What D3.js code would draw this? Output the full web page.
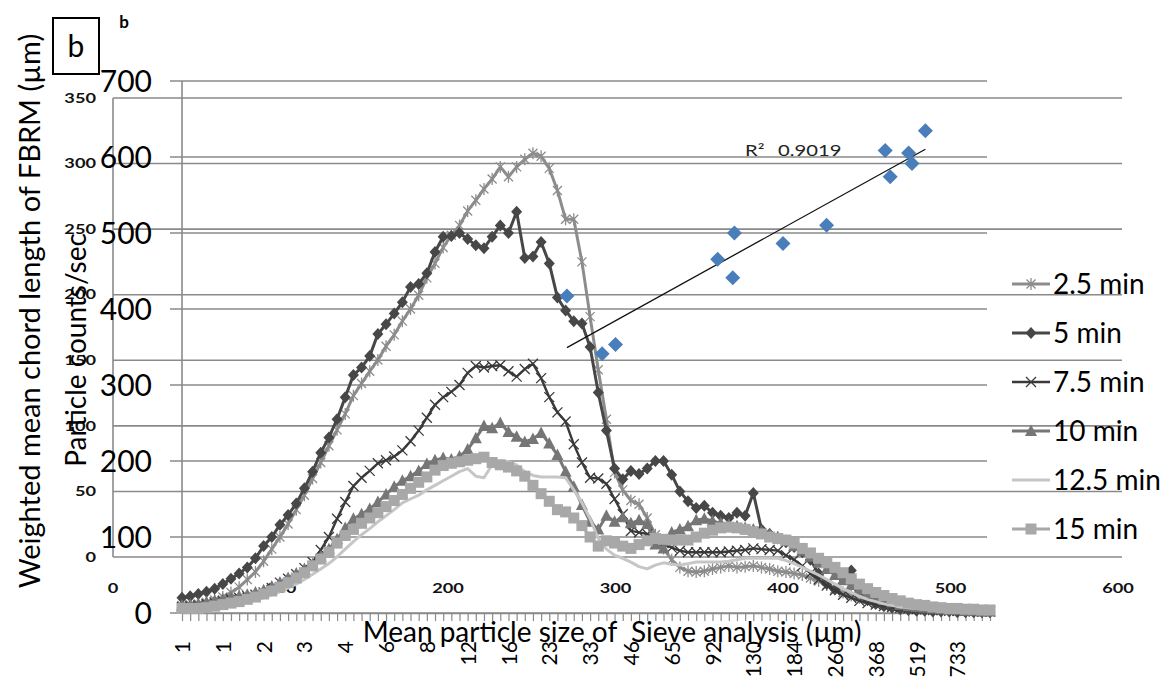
<!DOCTYPE html>
<html>
<head>
<meta charset="utf-8">
<script src="https://cdn.jsdelivr.net/npm/d3@7"></script>
<style>
  html, body { margin: 0; padding: 0; background: #fff; }
  svg { display: block; font-family: Lato, "Open Sans", "DejaVu Sans", sans-serif; }
</style>
</head>
<body>
<svg id="chart" width="1173" height="677"></svg>
<script>
// FBRM chord-length channels (channel midpoints, µm) – one label every 5 channels
const chordLabels = ["1","1","1","1","1","1","2","2","2","2",
  "2","2","2","3","3","3","3","3","4","4",
  "4","4","5","5","5","6","6","7","7","8",
  "8","9","9","10","11","12","12","13","14","15",
  "16","18","19","20","22","23","25","27","29","31",
  "33","35","38","40","43","46","50","53","57","61",
  "65","70","75","80","86","92","99","106","114","122",
  "130","140","150","160","172","184","197","211","226","243",
  "260","279","299","320","343","368","394","422","452","484",
  "519","556","596","638","684","733","785","841","902","966"];

// Particle counts/sec per channel at each sampling time
const min2_5 = [10,11,12,14,17,21,27,34,44,54,
  68,84,100,117,136,155,177,198,220,241,
  262,286,302,318,333,351,366,384,400,418,
  441,460,481,497,510,529,543,558,571,587,
  574,587,597,605,601,585,556,518,518,462,
  390,320,255,185,162,148,143,125,103,85,
  70,60,55,54,55,58,60,62,60,61,
  62,60,58,55,54,52,50,46,42,37,
  32,27,23,20,17,14,12,10,8,7,
  6,5,5,4,4,3,3,3,2,2];
const min5 = [20,22,25,28,32,38,45,52,60,72,
  88,100,116,129,144,164,186,211,231,255,
  284,313,323,338,367,380,394,409,429,433,
  447,475,495,496,500,492,484,480,495,510,
  500,528,467,469,488,460,415,398,384,381,
  350,290,240,190,176,187,183,190,200,200,
  182,160,147,138,141,132,128,125,132,128,
  158,110,104,98,93,87,80,70,52,38,
  31,45,56,30,17,12,9,7,5,4,
  3,3,2,2,2,1,1,1,1,1];
const min7_5 = [8,9,10,12,14,16,18,20,22,24,
  27,33,40,45,51,59,67,83,100,124,
  146,167,178,187,197,201,206,214,226,240,
  257,274,284,291,300,316,325,323,325,326,
  318,311,321,328,309,284,264,252,222,198,
  178,177,170,150,130,108,106,104,98,92,
  86,82,80,80,80,80,80,81,82,83,
  85,84,83,82,76,70,62,52,44,36,
  30,24,20,16,13,11,9,8,7,6,
  5,5,4,4,3,3,3,2,2,2];
const min10 = [10,11,12,14,16,18,20,22,24,27,
  30,35,40,46,52,58,64,74,84,97,
  112,124,130,137,146,156,166,174,180,187,
  196,201,204,202,206,215,230,246,243,250,
  238,232,225,229,237,223,208,186,166,142,
  120,110,128,120,126,118,122,117,90,85,
  106,110,114,122,124,121,118,116,114,112,
  110,107,104,100,95,88,82,74,66,58,
  50,43,37,31,26,21,17,14,11,9,
  8,7,6,5,4,4,3,3,2,2];
const min12_5 = [4,4,5,5,6,8,10,12,14,17,
  20,24,28,33,38,44,51,58,65,74,
  84,94,103,111,120,128,136,145,150,155,
  162,168,174,180,186,190,180,178,195,200,
  199,195,186,181,179,179,179,178,162,145,
  124,98,84,76,72,67,61,58,63,66,
  64,63,65,67,67,67,67,68,70,72,
  72,72,72,72,69,65,60,55,50,44,
  38,32,27,22,18,15,12,10,8,7,
  6,5,4,4,3,3,3,2,2,2];
const min15 = [6,6,6,7,9,11,13,15,18,21,
  25,29,34,40,46,53,62,71,80,92,
  102,110,118,125,132,140,148,156,164,172,
  179,188,194,197,199,201,203,205,198,195,
  192,187,180,168,157,147,136,133,125,115,
  100,88,95,92,88,85,90,95,98,97,
  96,96,96,100,105,109,112,113,112,110,
  107,104,100,98,96,92,85,79,72,66,
  60,53,45,38,32,27,23,19,16,13,
  11,10,8,7,6,6,5,5,4,4];

const seriesNames = ["2.5 min","5 min","7.5 min","10 min","12.5 min","15 min"];
const seriesValues = [min2_5, min5, min7_5, min10, min12_5, min15];

// Sieve analysis mean size (µm) vs FBRM weighted mean chord length (µm)
const sieveSize = [271,292,300,361,370,371,400,426,461,464,475,477,485];
const fbrmChord = [199,155,162,227,213,247,239,253,310,290,308,300,325];
const r2Text = "0.9019";

const countTicks = [0,100,200,300,400,500,600,700];
const chordTicks = [0,50,100,150,200,250,300,350];
const sizeTicks = [0,100,200,300,400,500,600];

const svg = d3.select("#chart");
svg.append("rect").attr("width",1173).attr("height",677).attr("fill","#fff");

// ---- scales ----
const idx = d3.range(chordLabels.length);
const xCat = d3.scalePoint().domain(idx).range([182, 990]);
const yCount = d3.scaleLinear().domain([0,700]).range([613, 81]);
const xSieve = d3.scaleLinear().domain([0,600]).range([113, 1118]);
const yChord = d3.scaleLinear().domain([0,350]).range([557, 98]);

const gridColor = "#8a8a8a";

// ---- gridlines ----
const grid = svg.append("g");
grid.selectAll("line.gb").data(chordTicks).join("line")
  .attr("x1", 113).attr("x2", 1122)
  .attr("y1", d => yChord(d)).attr("y2", d => yChord(d))
  .attr("stroke", gridColor).attr("stroke-width", 1.6);
grid.selectAll("line.ga").data(countTicks).join("line")
  .attr("x1", 170).attr("x2", 987)
  .attr("y1", d => yCount(d)).attr("y2", d => yCount(d))
  .attr("stroke", gridColor).attr("stroke-width", 1.6);
grid.append("line").attr("x1",113).attr("x2",113)
  .attr("y1", yChord(350)).attr("y2", yChord(0))
  .attr("stroke", gridColor).attr("stroke-width", 1.6);
grid.append("line").attr("x1",182).attr("x2",182)
  .attr("y1", yCount(700)).attr("y2", yCount(0))
  .attr("stroke", gridColor).attr("stroke-width", 1.6);

// ---- category axis (chord length channels) ----
const xAxis = d3.axisBottom(xCat)
  .tickValues(idx)
  .tickSize(8)
  .tickSizeOuter(0)
  .tickFormat(i => i % 5 === 0 ? chordLabels[i] : "");
const gx = svg.append("g").attr("transform", `translate(0,${yCount(0)})`).call(xAxis);
gx.select(".domain").attr("stroke", gridColor).attr("stroke-width", 1.6);
gx.selectAll(".tick line").attr("stroke", gridColor).attr("stroke-width", 1.2);
gx.selectAll(".tick text")
  .attr("transform", "rotate(-90)")
  .attr("x", -28).attr("y", 0).attr("dy", "0.36em")
  .attr("text-anchor", "end")
  .attr("font-size", 21).attr("fill", "#000")
  .attr("font-family", "Lato, sans-serif");

// ---- count axis labels ----
svg.append("g").selectAll("text").data(countTicks).join("text")
  .attr("x", 152).attr("y", d => yCount(d)).attr("dy", "0.36em")
  .attr("text-anchor", "end").attr("font-size", 30).attr("fill", "#000")
  .text(d => d);

// ---- sieve chart axis labels (wide, squat digits) ----
svg.append("g").selectAll("text").data(chordTicks).join("text")
  .attr("transform", d => `translate(96,${yChord(d)}) scale(1.4,1)`)
  .attr("dy", "0.36em")
  .attr("text-anchor", "end").attr("font-size", 13).attr("font-weight", "bold")
  .attr("fill", "#111").text(d => d);
svg.append("g").selectAll("text").data(sizeTicks).join("text")
  .attr("transform", d => `translate(${xSieve(d)},588) scale(1.4,1)`)
  .attr("dy", "0.36em")
  .attr("text-anchor", "middle").attr("font-size", 13).attr("font-weight", "bold")
  .attr("fill", "#111").text(d => d);

// ---- markers ----
function marker(sel, type, color) {
  if (type === "star") {
    sel.append("path").attr("d", "M-4.5,-4.5L4.5,4.5M-4.5,4.5L4.5,-4.5M0,-6L0,6")
      .attr("stroke", color).attr("stroke-width", 1.3).attr("fill", "none");
  } else if (type === "times") {
    sel.append("path").attr("d", "M-5,-5L5,5M-5,5L5,-5")
      .attr("stroke", color).attr("stroke-width", 1.3).attr("fill", "none");
  } else if (type === "diamond") {
    sel.append("path").attr("d", "M0,-6L5.5,0L0,6L-5.5,0Z").attr("fill", color);
  } else if (type === "triangle") {
    sel.append("path").attr("d", "M0,-6.5L6,5L-6,5Z").attr("fill", color);
  } else if (type === "square") {
    sel.append("rect").attr("x",-5.5).attr("y",-5.5).attr("width",11).attr("height",11).attr("fill", color);
  }
}

const styles = [
  {color: "#8c8c8c", width: 3, marker: "star"},
  {color: "#474747", width: 3, marker: "diamond"},
  {color: "#3a3a3a", width: 2.4, marker: "times"},
  {color: "#767676", width: 3, marker: "triangle"},
  {color: "#c6c6c6", width: 3, marker: null},
  {color: "#a8a8a8", width: 3, marker: "square"}
];

const line = d3.line().x((d,i) => xCat(i)).y(d => yCount(d));
seriesValues.forEach((vals, s) => {
  const st = styles[s];
  const g = svg.append("g");
  g.append("path").datum(vals).attr("d", line)
    .attr("fill", "none").attr("stroke", st.color).attr("stroke-width", st.width)
    .attr("stroke-linejoin", "round");
  if (st.marker) {
    g.selectAll("g.m").data(vals).join("g")
      .attr("transform", (d,i) => `translate(${xCat(i)},${yCount(d)})`)
      .each(function() { marker(d3.select(this), st.marker, st.color); });
  }
});

// ---- legend ----
const legend = svg.append("g");
const legendY = [284, 333, 382, 431, 480, 529];
seriesNames.forEach((name, s) => {
  const st = styles[s];
  const g = legend.append("g").attr("transform", `translate(0,${legendY[s]})`);
  g.append("line").attr("x1", 1012).attr("x2", 1050)
    .attr("stroke", st.color).attr("stroke-width", st.width);
  if (st.marker) {
    const m = g.append("g").attr("transform", "translate(1031,0)");
    marker(m, st.marker, st.color);
  }
  g.append("text").attr("x", 1053).attr("y", 0).attr("dy", "0.36em")
    .attr("font-size", 28).attr("fill", "#000").text(name);
});

// ---- sieve vs FBRM scatter with linear fit ----
const n = sieveSize.length;
const mx = d3.mean(sieveSize), my = d3.mean(fbrmChord);
let sxy = 0, sxx = 0;
for (let i = 0; i < n; i++) {
  sxy += (sieveSize[i]-mx)*(fbrmChord[i]-my);
  sxx += (sieveSize[i]-mx)**2;
}
const slope = sxy / sxx, icpt = my - slope*mx;
const [xMin, xMax] = d3.extent(sieveSize);
svg.append("line")
  .attr("x1", xSieve(xMin)).attr("y1", yChord(icpt + slope*xMin))
  .attr("x2", xSieve(xMax)).attr("y2", yChord(icpt + slope*xMax))
  .attr("stroke", "#111").attr("stroke-width", 1.3);
svg.append("g").selectAll("path").data(sieveSize).join("path")
  .attr("transform", (d,i) => `translate(${xSieve(d)},${yChord(fbrmChord[i])})`)
  .attr("d", "M0,-7.5L7.5,0L0,7.5L-7.5,0Z")
  .attr("fill", "#4a7ebb");
svg.append("text").attr("transform", "translate(745,151) scale(1.35,1)").attr("dy","0.36em")
  .attr("font-size", 15).attr("fill", "#222").text("R²");
svg.append("text").attr("transform", "translate(778,151) scale(1.35,1)").attr("dy","0.36em")
  .attr("font-size", 15).attr("fill", "#222").text(r2Text);

// ---- titles ----
svg.append("text")
  .attr("transform", "translate(30,311) rotate(-90)")
  .attr("text-anchor", "middle").attr("dy", "0.36em")
  .attr("font-size", 29).attr("fill", "#000")
  .text("Weighted mean chord length of FBRM (µm)");
svg.append("text")
  .attr("transform", "translate(76,350) rotate(-90)")
  .attr("text-anchor", "middle").attr("dy", "0.36em")
  .attr("font-size", 28).attr("fill", "#000")
  .text("Particle counts/sec");
svg.append("text")
  .attr("x", 612).attr("y", 632).attr("dy", "0.36em")
  .attr("text-anchor", "middle").attr("font-size", 28).attr("fill", "#000")
  .style("white-space", "pre")
  .text("Mean particle size of  Sieve analysis (µm)");

// ---- panel tags ----
svg.append("rect").attr("x", 53).attr("y", 18).attr("width", 46).attr("height", 56)
  .attr("fill", "#fff").attr("stroke", "#000").attr("stroke-width", 2);
svg.append("text").attr("x", 76).attr("y", 46).attr("dy", "0.36em")
  .attr("text-anchor", "middle").attr("font-size", 30).attr("fill", "#000").text("b");
svg.append("text").attr("x", 124).attr("y", 22).attr("dy", "0.36em")
  .attr("text-anchor", "middle").attr("font-size", 17).attr("font-weight", "bold")
  .attr("fill", "#000").text("b");
</script>
</body>
</html>
